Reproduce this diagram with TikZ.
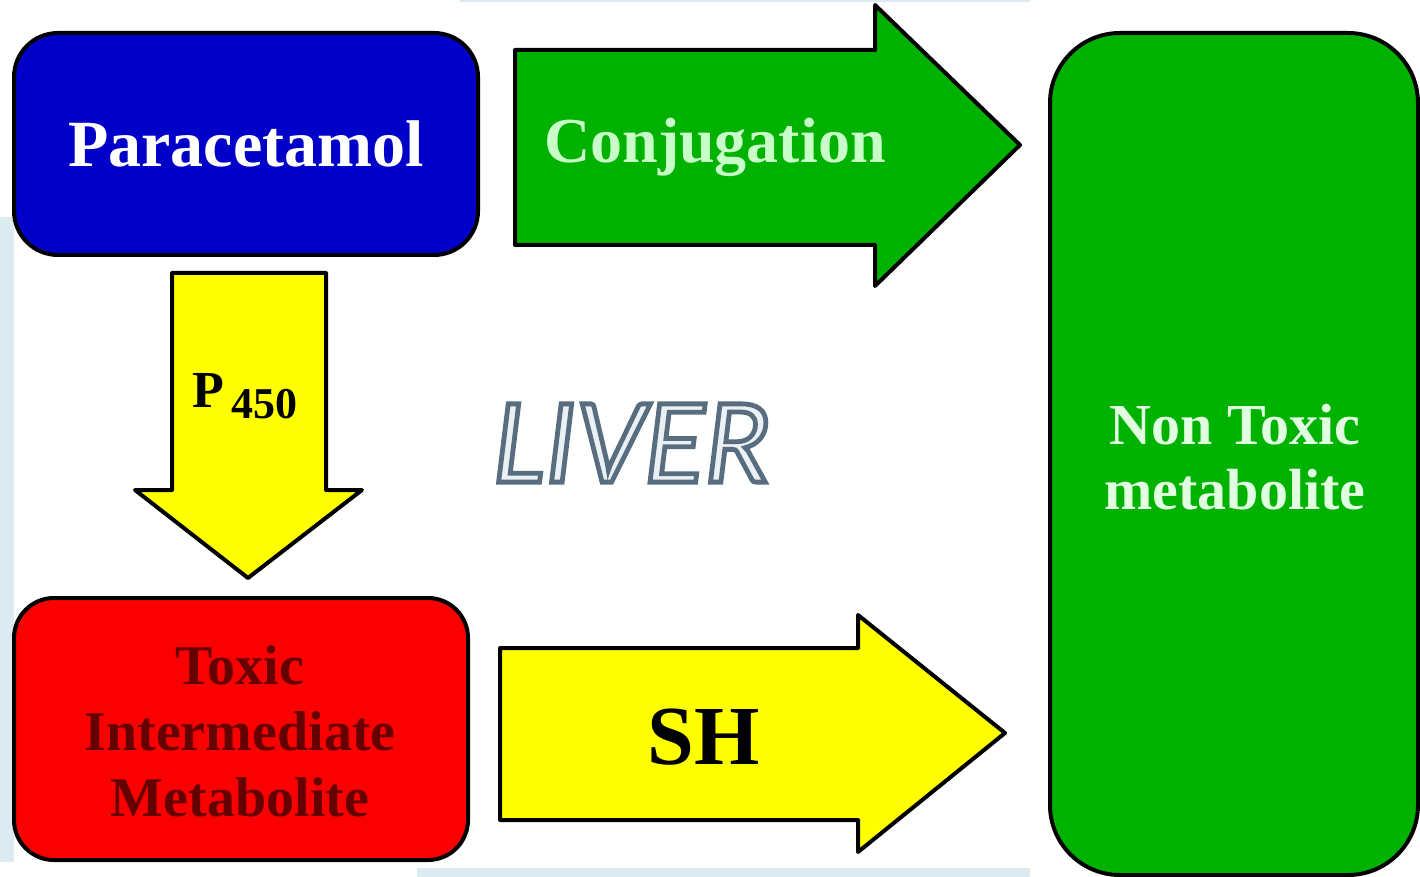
\documentclass[tikz,border=0pt]{standalone}
\usepackage{fontspec}
\setmainfont{Liberation Serif}
\newfontfamily\livfont{Carlito}
\definecolor{bgblue}{RGB}{220,235,240}
\definecolor{pblue}{RGB}{0,0,200}
\definecolor{pgreen}{RGB}{0,178,0}
\definecolor{pyellow}{RGB}{255,255,0}
\definecolor{pred}{RGB}{250,0,0}
\definecolor{conjtext}{RGB}{200,255,200}
\definecolor{ntext}{RGB}{225,255,225}
\definecolor{redtext}{RGB}{100,0,0}
\definecolor{livfill}{RGB}{234,240,244}
\newcommand{\outlinetext}[1]{\special{pdf:literal direct 2 Tr 2.4 w 0.345 0.431 0.502 RG}#1\special{pdf:literal direct 0 Tr}}
\tikzset{
  blockshape/.style={draw=black, line width=2pt, line join=round},
  roundbox/.style={blockshape, rounded corners=#1, inner sep=0pt},
  lbl/.style={inner sep=0pt, align=center, font=\bfseries}
}
\begin{document}
\begin{tikzpicture}[x=0.5pt,y=-0.5pt]
\useasboundingbox (0,0) rectangle (1420,877);
\fill[white] (0,0) rectangle (1420,877);
% light background strips
\fill[bgblue] (0,217) rectangle (14,862);
\fill[bgblue] (417,868) rectangle (1030,877);
\fill[bgblue] (460,0) rectangle (1030,2);

% Paracetamol box
\node[roundbox=22pt, fill=pblue, minimum width=232pt, minimum height=111pt,
      text=white, font=\bfseries\fontsize{33}{38}\selectfont] (para) at (246,144) {Paracetamol};

% Toxic intermediate box
\node[roundbox=20pt, fill=pred, minimum width=227pt, minimum height=131pt] (toxbox) at (241,729) {};
\node[lbl, text=redtext, font=\bfseries\fontsize{28}{33}\selectfont] (toxic) at (240,731) {Toxic\\Intermediate\\Metabolite};

% Non toxic metabolite box
\node[roundbox=35pt, fill=pgreen, minimum width=184pt, minimum height=421pt] (ntbox) at (1234,454) {};
\node[lbl, text=ntext, font=\bfseries\fontsize{29}{32.5}\selectfont] (nontoxic) at (1235,457) {Non Toxic\\metabolite};

% Conjugation arrow
\draw[blockshape, fill=pgreen] (515,50) -- (875,50) -- (875,5) -- (1020,145) -- (875,286) -- (875,245) -- (515,245) -- cycle;
\node[lbl, text=conjtext, font=\bfseries\fontsize{32}{36}\selectfont] (conj) at (715,147) {Conjugation};

% P450 arrow
\draw[blockshape, fill=pyellow] (172,273) -- (326,273) -- (326,490) -- (362,490) -- (248,578) -- (135,490) -- (172,490) -- cycle;
\node[lbl, font=\bfseries\fontsize{26}{30}\selectfont, anchor=base west] (p) at (192,408) {P};
\node[lbl, font=\bfseries\fontsize{22}{24}\selectfont, anchor=base west] (p450) at (231,418) {450};

% SH arrow
\draw[blockshape, fill=pyellow] (500,648) -- (858,648) -- (858,615) -- (1005,733) -- (858,852) -- (858,820) -- (500,820) -- cycle;
\node[lbl, font=\bfseries\fontsize{42}{46}\selectfont] (sh) at (704,737) {SH};

% LIVER
\node[inner sep=0pt, text=livfill, font=\livfont\itshape\fontsize{61}{66}\selectfont] (liver) at (632,443) {\outlinetext{LIVER}};
\end{tikzpicture}
\end{document}
